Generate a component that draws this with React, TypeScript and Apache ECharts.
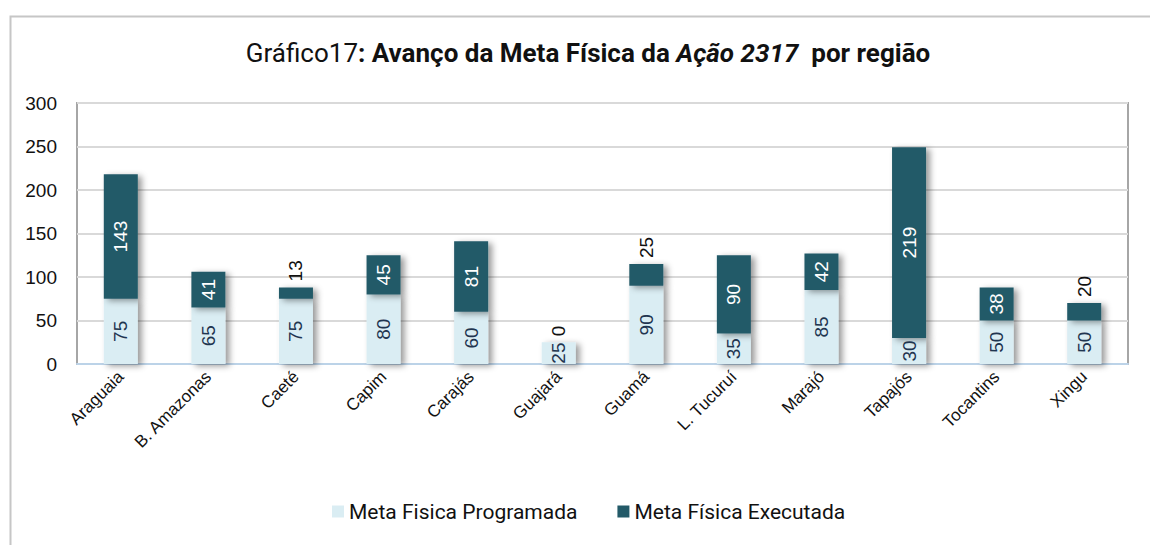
import React, { useEffect, useRef } from "react";
import * as echarts from "echarts";

const categories = ["Araguaia", "B. Amazonas", "Caeté", "Capim", "Carajás", "Guajará", "Guamá", "L. Tucuruí", "Marajó", "Tapajós", "Tocantins", "Xingu"];
const programada = [75, 65, 75, 80, 60, 25, 90, 35, 85, 30, 50, 50];
const executada = [143, 41, 13, 45, 81, 0, 25, 90, 42, 219, 38, 20];
const outsideLabel = [false, false, true, false, false, true, true, false, false, false, false, true];
const seriesNames = ["Meta Fisica Programada", "Meta Física Executada"];
const yTicks = { min: 0, max: 300, interval: 50 };

export default function App() {
  const ref = useRef<HTMLDivElement>(null);
  useEffect(() => {
    const chart = echarts.init(ref.current!, undefined, { renderer: "svg" });
    const shadow = {
      shadowBlur: 6,
      shadowColor: "rgba(0,0,0,0.4)",
      shadowOffsetX: 4,
      shadowOffsetY: 2,
    };
    chart.setOption({
      animation: false,
      backgroundColor: "#ffffff",
      graphic: [
        {
          type: "rect",
          left: 8,
          top: 14,
          shape: { width: 1160, height: 600 },
          style: { fill: "none", stroke: "#c6c6c6", lineWidth: 2 },
          silent: true,
          z: -1,
        },
      ],
      title: {
        text: "{n|Gráfico17}{b|: Avanço da Meta Física da }{bi|Ação 2317}{b|  por região}",
        left: 583,
        textAlign: "center",
        top: 35,
        textStyle: {
          rich: {
            n: { fontFamily: "Roboto", fontSize: 26, color: "#111", fontWeight: "normal" },
            b: { fontFamily: "Roboto", fontSize: 26, color: "#111", fontWeight: "bold" },
            bi: { fontFamily: "Roboto", fontSize: 26, color: "#111", fontWeight: "bold", fontStyle: "italic" },
          },
        },
      },
      legend: {
        bottom: 18,
        left: 327,
        itemWidth: 12,
        itemHeight: 12,
        itemGap: 40,
        icon: "rect",
        textStyle: { fontFamily: "Roboto", fontSize: 21, color: "#111" },
        data: seriesNames,
      },
      grid: { left: 77, right: 22, top: 103, bottom: 181, show: true, borderColor: "#a6a6a6", borderWidth: 2, backgroundColor: "transparent" },
      xAxis: {
        type: "category",
        data: categories,
        axisLine: { show: true, lineStyle: { color: "#bcd3e8", width: 2 } },
        axisTick: { show: false },
        axisLabel: { rotate: 45, fontFamily: "Liberation Sans", fontSize: 17, color: "#111", margin: 10, interval: 0 },
      },
      yAxis: {
        type: "value",
        min: yTicks.min,
        max: yTicks.max,
        interval: yTicks.interval,
        axisLine: { show: false },
        axisTick: { show: false },
        splitLine: { lineStyle: { color: "#d9d9d9", width: 2 } },
        axisLabel: { fontFamily: "Liberation Sans", fontSize: 19, color: "#111", margin: 20 },
      },
      series: [
        {
          name: seriesNames[0],
          type: "bar",
          stack: "total",
          barWidth: 34,
          data: programada,
          itemStyle: { color: "#daedf3", ...shadow },
          label: {
            show: true,
            position: "inside",
            rotate: 90,
            fontFamily: "Liberation Sans",
            fontSize: 19,
            color: "#1f3550",
          },
        },
        {
          name: seriesNames[1],
          type: "bar",
          stack: "total",
          barWidth: 34,
          data: executada.map((v, i) =>
            outsideLabel[i]
              ? {
                  value: v,
                  label: {
                    position: "top",
                    color: "#111",
                    align: "left",
                    verticalAlign: "middle",
                    distance: 6,
                  },
                }
              : v
          ),
          itemStyle: { color: "#235a68", ...shadow },
          label: {
            show: true,
            position: "inside",
            rotate: 90,
            fontFamily: "Liberation Sans",
            fontSize: 19,
            color: "#ffffff",
          },
        },
      ],
    });
    return () => chart.dispose();
  }, []);
  return <div ref={ref} style={{ position: "absolute", left: 0, top: 0, width: 1150, height: 545 }} />;
}
